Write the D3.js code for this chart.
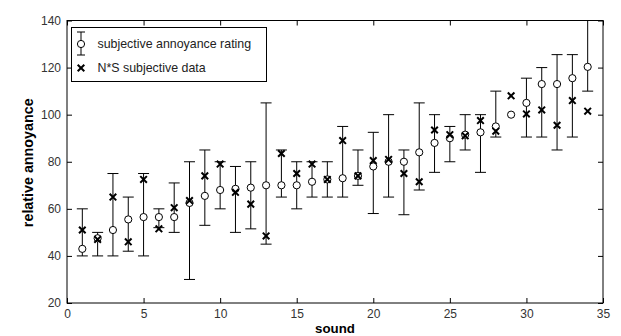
<!DOCTYPE html>
<html>
<head>
<meta charset="utf-8">
<script src="https://cdn.jsdelivr.net/npm/d3@7"></script>
<style>
  html, body { margin: 0; padding: 0; background: #fff; }
  svg { display: block; font-family: "Liberation Sans", Arial, sans-serif; }
</style>
</head>
<body>
<svg id="chart" width="621" height="336"></svg>
<script>
// ---- data ----
const sounds = [1,2,3,4,5,6,7,8,9,10,11,12,13,14,15,16,17,18,19,20,21,22,23,24,25,26,27,28,29,30,31,32,33,34];
const ratingMean  = [43, 47.5, 51, 55.5, 56.5, 56.5, 56.5, 62.5, 65.5, 68, 68.5, 69, 70, 70, 70, 71.5, 72.5, 73, 74, 78, 80, 80, 84, 88, 90, 91.5, 92.5, 95, 100, 105, 113, 113, 115.5, 120.3];
const ratingUpper = [60, 50, 75, 65, 75, 60, 71, 80, 85, 80, 78, 80, 105, 85, 80, 80, 80, 95, 85, 92.5, 100, 85, 105, 100, 95, 100, 100, 110, null, 115.5, 120, 125.5, 125.5, 140];
const ratingLower = [40, 40, 40, 42, 40, 52, 50, 30, 53, 60, 50, 51.5, 45, 65, 60, 65, 65, 65, 70, 58, 65, 57.5, 68, 75.5, 80, 85, 75.5, 90.5, null, 90.5, 90.5, 85, 90.5, 110];
const nsData = [51, 47, 65, 46, 72.5, 51.5, 60.5, 63.5, 74, 79, 67, 62, 48.5, 83.5, 75, 79, 72.5, 89, 74, 80.5, 81, 75, 71.5, 93.5, 91.5, 91, 97.5, 93, 108, 100.3, 102, 95.5, 106, 101.5];
const xTicks = [0, 5, 10, 15, 20, 25, 30, 35];
const yTicks = [20, 40, 60, 80, 100, 120, 140];
const seriesNames = ["subjective annoyance rating", "N*S subjective data"];
const xLabel = "sound";
const yLabel = "relative annoyance";

// ---- layout ----
const L = 67, R = 603, T = 20.5, B = 303;
const svg = d3.select("#chart");
const x = d3.scaleLinear().domain([0, 35]).range([L, R]);
const y = d3.scaleLinear().domain([20, 140]).range([B, T]);

const fontSize = 12;
const tickColor = "#000";

// axes (ticks inward, on all four sides)
const gB = svg.append("g").attr("transform", `translate(0,${B})`)
  .call(d3.axisBottom(x).tickValues(xTicks).tickSizeInner(-5).tickSizeOuter(0).tickPadding(6));
const gT = svg.append("g").attr("transform", `translate(0,${T})`)
  .call(d3.axisTop(x).tickValues(xTicks).tickSizeInner(-5).tickSizeOuter(0).tickFormat(""));
const gL = svg.append("g").attr("transform", `translate(${L},0)`)
  .call(d3.axisLeft(y).tickValues(yTicks).tickSizeInner(-5).tickSizeOuter(0).tickPadding(6));
const gR = svg.append("g").attr("transform", `translate(${R},0)`)
  .call(d3.axisRight(y).tickValues(yTicks).tickSizeInner(-5).tickSizeOuter(0).tickFormat(""));

[gB, gT, gL, gR].forEach(g => {
  g.select(".domain").remove();
  g.selectAll(".tick line").attr("stroke", tickColor);
  g.selectAll(".tick text").attr("fill", "#333").style("font-size", fontSize + "px")
    .style("font-family", '"Liberation Sans", Arial, sans-serif');
});

// frame
svg.append("rect")
  .attr("x", L).attr("y", T).attr("width", R - L).attr("height", B - T)
  .attr("fill", "none").attr("stroke", "#000").attr("stroke-width", 1);

// axis labels
svg.append("text").attr("x", (L + R) / 2).attr("y", 333)
  .attr("text-anchor", "middle").style("font-size", "13.3px").style("font-weight", "bold")
  .text(xLabel);
svg.append("text").attr("transform", `translate(33,${(T + B) / 2 + 1}) rotate(-90)`)
  .attr("text-anchor", "middle").style("font-size", "14.3px").style("font-weight", "bold")
  .text(yLabel);

// plot
const plot = svg.append("g");
const capW = 5.5;
const rows = sounds.map((s, i) => ({ s, m: ratingMean[i], hi: ratingUpper[i], lo: ratingLower[i], ns: nsData[i] }));

const eb = plot.selectAll("g.eb").data(rows.filter(d => d.hi != null)).join("g").attr("class", "eb")
  .attr("stroke", "#000").attr("stroke-width", 1);
eb.append("line").attr("x1", d => x(d.s)).attr("x2", d => x(d.s)).attr("y1", d => y(d.hi)).attr("y2", d => y(d.lo));
eb.append("line").attr("x1", d => x(d.s) - capW).attr("x2", d => x(d.s) + capW).attr("y1", d => y(d.hi)).attr("y2", d => y(d.hi));
eb.append("line").attr("x1", d => x(d.s) - capW).attr("x2", d => x(d.s) + capW).attr("y1", d => y(d.lo)).attr("y2", d => y(d.lo));

plot.selectAll("circle.m").data(rows).join("circle").attr("class", "m")
  .attr("cx", d => x(d.s)).attr("cy", d => y(d.m)).attr("r", 3.6)
  .attr("fill", "#fff").attr("stroke", "#000").attr("stroke-width", 1);

const xs = 3.3;
const xPath = (cx, cy) => `M${cx - xs},${cy - xs}L${cx + xs},${cy + xs}M${cx - xs},${cy + xs}L${cx + xs},${cy - xs}`;
plot.selectAll("path.ns").data(rows).join("path").attr("class", "ns")
  .attr("d", d => xPath(x(d.s), y(d.ns)))
  .attr("stroke", "#000").attr("stroke-width", 2).attr("fill", "none");

// legend
const lg = svg.append("g");
lg.append("rect").attr("x", 71.5).attr("y", 27.5).attr("width", 195).attr("height", 54)
  .attr("fill", "#fff").attr("stroke", "#000");
const lx = 81;
lg.append("line").attr("x1", lx).attr("x2", lx).attr("y1", 32).attr("y2", 55).attr("stroke", "#000");
lg.append("line").attr("x1", lx - 4).attr("x2", lx + 4).attr("y1", 32).attr("y2", 32).attr("stroke", "#000");
lg.append("line").attr("x1", lx - 4).attr("x2", lx + 4).attr("y1", 55).attr("y2", 55).attr("stroke", "#000");
lg.append("circle").attr("cx", lx).attr("cy", 44).attr("r", 3.6).attr("fill", "#fff").attr("stroke", "#000");
lg.append("path").attr("d", xPath(lx, 68)).attr("stroke", "#000").attr("stroke-width", 2);
lg.append("text").attr("x", 97.5).attr("y", 48.3).style("font-size", "12.4px").attr("fill", "#222").text(seriesNames[0]);
lg.append("text").attr("x", 97.5).attr("y", 72).style("font-size", "12.4px").attr("fill", "#222").text(seriesNames[1]);
</script>
</body>
</html>
